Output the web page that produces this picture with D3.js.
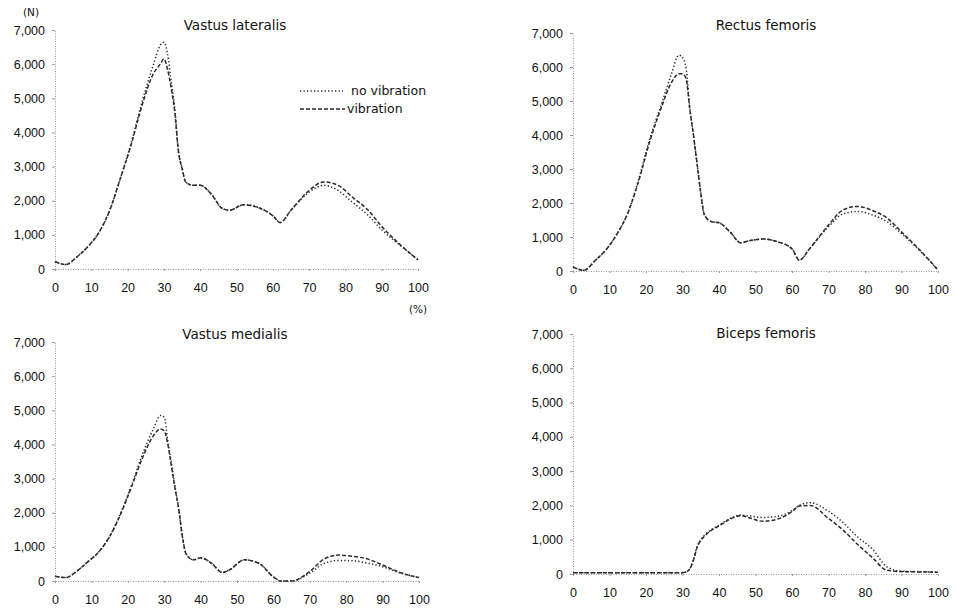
<!DOCTYPE html>
<html>
<head>
<meta charset="utf-8">
<script src="https://cdn.jsdelivr.net/npm/d3@7"></script>
<style>
  body { margin: 0; background: #fff; }
  svg { font-family: "DejaVu Sans", Lato, sans-serif; }
  .axis path.domain { stroke: #9a9a9a; stroke-dasharray: 1,1.5; }
  .axis line { stroke: #9a9a9a; }
  .axis text { font-size: 12.5px; fill: #111; }
</style>
</head>
<body>
<div id="chart"></div>
<script>
// cycle position (%)
const pct = [0, 3, 6, 9, 12, 15, 18, 21, 24, 27, 29, 30, 31, 32, 33, 34, 35, 36, 38, 40,
  43, 46, 48, 52, 56, 60, 62, 65, 70, 74, 78, 82, 86, 90, 95, 100];

const titles = ["Vastus lateralis", "Rectus femoris", "Vastus medialis", "Biceps femoris"];
const seriesNames = ["no vibration", "vibration"];
const xTicks = [0, 10, 20, 30, 40, 50, 60, 70, 80, 90, 100];
const yTicks = [0, 1000, 2000, 3000, 4000, 5000, 6000, 7000];

// force (N)
const vlNoVib = [220, 130, 350, 650, 1050, 1700, 2650, 3700, 4900, 5950, 6550, 6640, 6300, 5500, 4700, 3450, 2950, 2550, 2450, 2450,
  2200, 1780, 1720, 1880, 1800, 1560, 1360, 1720, 2250, 2450, 2300, 1950, 1600, 1150, 700, 270];
const vlVib = [220, 130, 350, 650, 1050, 1700, 2650, 3650, 4800, 5700, 6000, 6150, 5850, 5300, 4600, 3450, 2950, 2550, 2450, 2450,
  2200, 1780, 1720, 1880, 1800, 1560, 1360, 1720, 2300, 2550, 2450, 2100, 1750, 1250, 720, 270];

const rfNoVib = [120, 20, 300, 620, 1080, 1700, 2700, 3880, 4830, 5800, 6350, 6280, 5950, 4800, 4000, 3150, 2300, 1650, 1450, 1420,
  1150, 830, 880, 940, 860, 650, 320, 680, 1300, 1680, 1750, 1650, 1450, 1100, 600, 30];
const rfVib = [120, 20, 300, 620, 1080, 1700, 2650, 3800, 4750, 5550, 5800, 5800, 5650, 4750, 4000, 3150, 2300, 1650, 1450, 1420,
  1150, 830, 880, 940, 860, 650, 320, 680, 1350, 1800, 1900, 1780, 1560, 1150, 620, 30];

const vmNoVib = [140, 100, 290, 560, 850, 1300, 1980, 2800, 3700, 4450, 4850, 4800, 4100, 3450, 2750, 2100, 1300, 800, 620, 680,
  520, 250, 330, 620, 520, 120, 0, 0, 230, 520, 600, 590, 520, 420, 230, 100];
const vmVib = [140, 100, 290, 560, 850, 1300, 1950, 2750, 3600, 4250, 4450, 4400, 4000, 3350, 2700, 2100, 1300, 800, 620, 680,
  520, 250, 330, 620, 520, 120, 0, 0, 280, 650, 760, 720, 640, 470, 240, 100];

const bfNoVib = [40, 40, 40, 40, 40, 40, 40, 40, 40, 40, 40, 40, 60, 150, 420, 800, 1000, 1130, 1300, 1420,
  1620, 1720, 1700, 1650, 1680, 1850, 2000, 2080, 1830, 1500, 1080, 730, 210, 80, 70, 60];
const bfVib = [40, 40, 40, 40, 40, 40, 40, 40, 40, 40, 40, 40, 60, 150, 400, 780, 980, 1100, 1280, 1400,
  1600, 1700, 1650, 1540, 1600, 1820, 1980, 2000, 1620, 1280, 860, 480, 110, 70, 60, 50];

const panelData = [[vlNoVib, vlVib], [rfNoVib, rfVib], [vmNoVib, vmVib], [bfNoVib, bfVib]];

// plot frames on the page
const frames = [
  { left: 55, right: 418, top: 30, bottom: 269, tx: 235, ty: 30 },
  { left: 573, right: 938, top: 33, bottom: 271, tx: 766, ty: 30 },
  { left: 55, right: 419, top: 342, bottom: 581, tx: 235, ty: 339 },
  { left: 573, right: 938, top: 334, bottom: 574, tx: 766, ty: 338 }
];

const dashes = ["1.3,2.2", "4,2"];

const svg = d3.select("#chart").append("svg")
  .attr("width", 956)
  .attr("height", 608);

frames.forEach(function (f, i) {
  const x = d3.scaleLinear().domain([0, 100]).range([f.left, f.right]);
  const y = d3.scaleLinear().domain([0, 7000]).range([f.bottom, f.top]);

  // axes
  svg.append("g")
    .attr("class", "axis")
    .attr("transform", "translate(0," + f.bottom + ")")
    .call(d3.axisBottom(x).tickValues(xTicks).tickSize(2).tickSizeOuter(0).tickPadding(12));

  svg.append("g")
    .attr("class", "axis")
    .attr("transform", "translate(" + f.left + ",0)")
    .call(d3.axisLeft(y).tickValues(yTicks).tickSize(3).tickSizeOuter(0).tickPadding(7)
      .tickFormat(d3.format(",")));

  // title
  svg.append("text")
    .attr("x", f.tx)
    .attr("y", f.ty)
    .attr("text-anchor", "middle")
    .style("font-size", "13.5px")
    .style("fill", "#111")
    .text(titles[i]);

  // curves
  const line = d3.line()
    .x((d, k) => x(pct[k]))
    .y(d => y(d))
    .curve(d3.curveMonotoneX);

  panelData[i].forEach(function (vals, s) {
    svg.append("path")
      .datum(vals)
      .attr("d", line)
      .attr("fill", "none")
      .attr("stroke", "#2a2a2a")
      .attr("stroke-width", 1.5)
      .attr("stroke-dasharray", dashes[s]);
  });
});

// unit labels
svg.append("text")
  .attr("x", 31).attr("y", 16)
  .attr("text-anchor", "middle")
  .style("font-size", "10.5px").style("fill", "#111")
  .text("(N)");

svg.append("text")
  .attr("x", 418).attr("y", 313)
  .attr("text-anchor", "middle")
  .style("font-size", "10.5px").style("fill", "#111")
  .text("(%)");

// legend
const legend = svg.selectAll(".legend")
  .data(seriesNames)
  .enter().append("g")
  .attr("class", "legend")
  .attr("transform", (d, i) => "translate(300," + (91 + i * 18) + ")");

legend.append("line")
  .attr("x1", 0)
  .attr("x2", (d, i) => i === 0 ? 43 : 45)
  .attr("stroke", "#2a2a2a")
  .attr("stroke-width", 1.5)
  .attr("stroke-dasharray", (d, i) => dashes[i]);

legend.append("text")
  .attr("x", (d, i) => i === 0 ? 51 : 47)
  .attr("y", 0)
  .attr("dy", "0.35em")
  .style("font-size", "12.5px")
  .style("fill", "#111")
  .text(d => d);
</script>
</body>
</html>
